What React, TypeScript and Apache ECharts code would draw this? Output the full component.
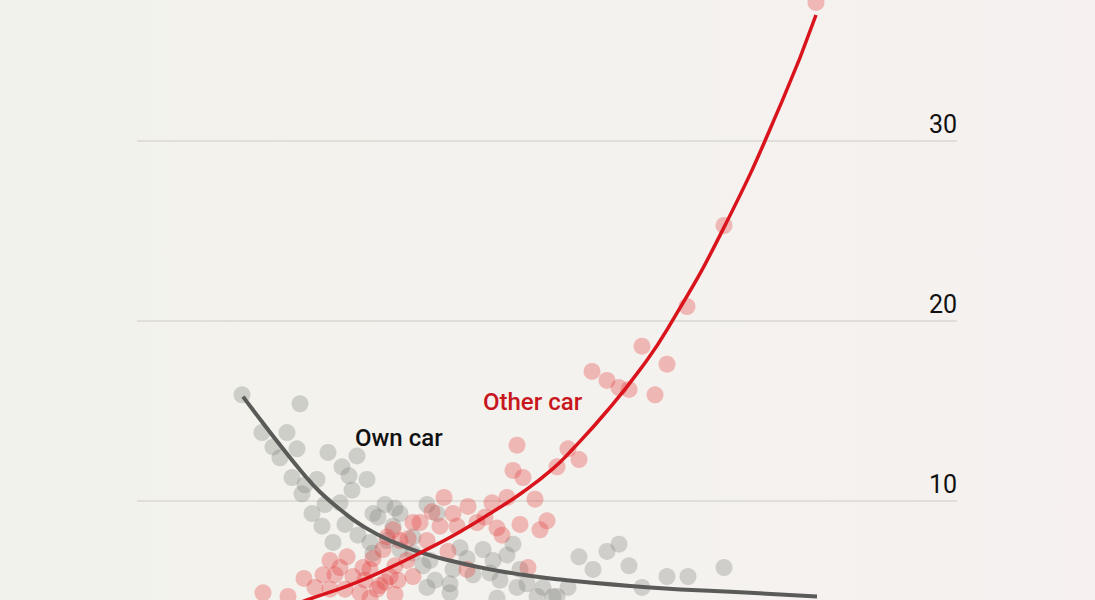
import React, { useEffect, useRef } from "react";
import * as echarts from "echarts";

// Fatality-risk scatter: occupants of their own car vs. occupants of the other car
const yTicks = [0, 10, 20, 30, 40];

// Individual observations [x, y]
const ownCarPoints: number[][] = [
  [10.5, 15.9], [16.3, 15.4], [12.5, 13.8], [15.0, 13.8], [13.6, 13.0], [16.0, 12.9],
  [14.3, 12.4], [19.1, 12.7], [22.0, 12.5], [20.5, 11.9], [21.2, 11.4], [23.0, 11.2],
  [15.5, 11.3], [16.8, 10.9], [18.0, 11.2], [21.5, 10.6], [16.5, 10.4], [17.5, 9.3],
  [18.8, 9.8], [20.3, 9.9], [18.5, 8.6], [20.8, 8.7], [19.6, 7.7], [22.1, 8.1],
  [23.6, 9.3], [24.1, 9.1], [24.8, 9.8], [25.8, 9.6], [25.6, 8.6], [25.0, 7.8],
  [23.3, 7.7], [26.3, 9.3], [29.0, 9.8], [30.0, 9.3], [32.3, 7.4], [34.6, 7.3],
  [37.6, 7.6], [37.0, 7.0], [33.0, 6.8], [35.6, 6.7], [31.6, 6.2], [29.3, 6.7],
  [29.8, 5.6], [31.3, 5.4], [33.6, 5.9], [35.3, 6.0], [38.3, 6.2], [36.3, 5.6],
  [38.0, 5.2], [39.0, 5.4], [40.6, 5.2], [40.0, 4.7], [41.6, 4.7], [26.3, 7.3],
  [27.6, 7.1], [28.6, 6.4], [44.2, 6.9], [47.0, 7.2], [48.2, 7.6], [45.6, 6.2],
  [49.2, 6.4], [53.0, 5.8], [55.1, 5.8], [58.7, 6.3], [50.5, 5.2], [43.1, 5.2],
  [42.0, 4.7], [27.6, 8.0], [29.0, 5.2], [31.3, 4.9], [23.6, 7.1], [36.0, 4.6],
];

const otherCarPoints: number[][] = [
  [67.9, 37.7], [58.7, 25.3], [55.0, 20.8], [50.5, 18.6], [53.0, 17.6], [45.5, 17.2],
  [47.0, 16.7], [48.2, 16.3], [49.2, 16.2], [51.8, 15.9], [43.1, 12.9], [44.2, 12.3],
  [42.0, 11.9], [38.0, 13.1], [37.6, 11.7], [38.6, 11.3], [37.0, 10.2], [39.8, 10.1],
  [38.3, 8.7], [41.0, 8.9], [40.3, 8.4], [36.5, 8.1], [39.1, 6.3], [30.7, 10.2],
  [33.1, 9.7], [35.5, 9.9], [29.5, 9.4], [31.6, 9.3], [34.8, 9.1], [28.3, 8.8],
  [30.3, 8.6], [32.0, 8.6], [34.0, 8.8], [36.0, 8.5], [25.6, 8.4], [27.1, 7.9],
  [29.0, 7.8], [31.1, 7.2], [33.0, 6.2], [27.0, 6.7], [26.1, 5.6], [27.6, 5.8],
  [21.0, 6.9], [19.3, 6.7], [20.3, 6.3], [18.6, 5.9], [16.7, 5.7], [17.8, 5.2],
  [12.6, 4.9], [15.1, 4.7], [21.6, 5.8], [22.6, 6.3], [23.6, 6.8], [23.3, 6.2],
  [24.6, 7.3], [22.3, 4.9], [24.0, 5.1], [25.3, 5.8], [19.3, 5.1], [24.8, 5.5],
  [25.8, 4.8], [22.8, 5.6], [25.0, 8.0], [27.6, 8.8], [26.3, 7.8], [24.3, 5.3],
  [23.3, 4.6], [20.8, 5.1], [19.8, 5.9], [25.8, 6.4],
];

// Fitted trend curves [x, y]
const ownCarTrend: number[][] = [
  [10.6, 15.8], [12.5, 14.4], [14.6, 12.9], [16.5, 11.6], [18.3, 10.5], [20.6, 9.4],
  [22.6, 8.6], [25.3, 7.8], [28.6, 7.1], [32.0, 6.6], [35.3, 6.2], [38.6, 5.9],
  [42.0, 5.65], [51.3, 5.2], [61.3, 4.9], [68.0, 4.7],
];

const otherCarTrend: number[][] = [
  [16.0, 4.3], [17.0, 4.5], [21.6, 5.4], [25.3, 6.3], [28.6, 7.2], [32.0, 8.2],
  [35.3, 9.3], [38.6, 10.5], [41.6, 11.8], [43.6, 12.9], [47.0, 15.0], [50.3, 17.3],
  [53.1, 19.6], [58.7, 25.2], [64.5, 32.2], [67.9, 37.0],
];

const FONT = "Roboto, 'Noto Sans', sans-serif";

// The canvas is taller than the window and shifted up, so the 40 line and the
// zero baseline both sit outside the visible frame.
const SHIFT = 39;

export default function App() {
  const ref = useRef<HTMLDivElement>(null);

  useEffect(() => {
    if (!ref.current) return;
    const chart = echarts.init(ref.current, undefined, { renderer: "svg" });
    chart.setOption({
      animation: false,
      backgroundColor: "transparent",
      grid: { left: 137, right: 138, top: 0, bottom: 19, containLabel: false },
      xAxis: {
        type: "value",
        min: 0,
        max: 82,
        show: false,
        splitLine: { show: false },
      },
      yAxis: {
        type: "value",
        position: "right",
        min: yTicks[0],
        max: yTicks[yTicks.length - 1],
        interval: 10,
        axisLine: { show: false },
        axisTick: { show: false },
        splitLine: { show: true, lineStyle: { color: "#d8d7d2", width: 1.5 } },
        axisLabel: {
          inside: true,
          margin: 0,
          fontFamily: FONT,
          fontSize: 25,
          color: "#111111",
          verticalAlign: "bottom",
          padding: [0, 0, 4, 0],
          showMinLabel: false,
          showMaxLabel: false,
          formatter: (v: number) => (v === 0 ? "" : String(v)),
        },
      },
      graphic: [
        {
          type: "text",
          left: 355,
          top: 426 + SHIFT,
          style: { text: "Own car", font: `500 24px ${FONT}`, fill: "#111111" },
        },
        {
          type: "text",
          left: 483,
          top: 390 + SHIFT,
          style: { text: "Other car", font: `500 24px ${FONT}`, fill: "#c8161d" },
        },
      ],
      series: [
        {
          name: "Own car",
          type: "scatter",
          data: ownCarPoints,
          symbolSize: 17,
          itemStyle: { color: "rgba(125,125,122,0.38)" },
          z: 2,
        },
        {
          name: "Other car",
          type: "scatter",
          data: otherCarPoints,
          symbolSize: 17,
          itemStyle: { color: "rgba(228,58,58,0.4)" },
          z: 2,
        },
        {
          name: "Own car trend",
          type: "line",
          data: ownCarTrend,
          smooth: 0.5,
          symbol: "none",
          lineStyle: { color: "#5a5a58", width: 4 },
          z: 3,
        },
        {
          name: "Other car trend",
          type: "line",
          data: otherCarTrend,
          smooth: 0.5,
          symbol: "none",
          lineStyle: { color: "#d9141c", width: 3.5 },
          z: 4,
        },
      ],
    });
    return () => chart.dispose();
  }, []);

  return (
    <div
      style={{
        position: "fixed",
        left: 0,
        top: 0,
        width: 1095,
        height: 600,
        overflow: "hidden",
        background: "linear-gradient(90deg, #f2f2ec 0%, #f4f2ee 55%, #f6f1f0 100%)",
      }}
    >
      <div
        ref={ref}
        style={{ position: "absolute", left: 0, top: -SHIFT, width: 1095, height: 700 + SHIFT }}
      />
    </div>
  );
}
